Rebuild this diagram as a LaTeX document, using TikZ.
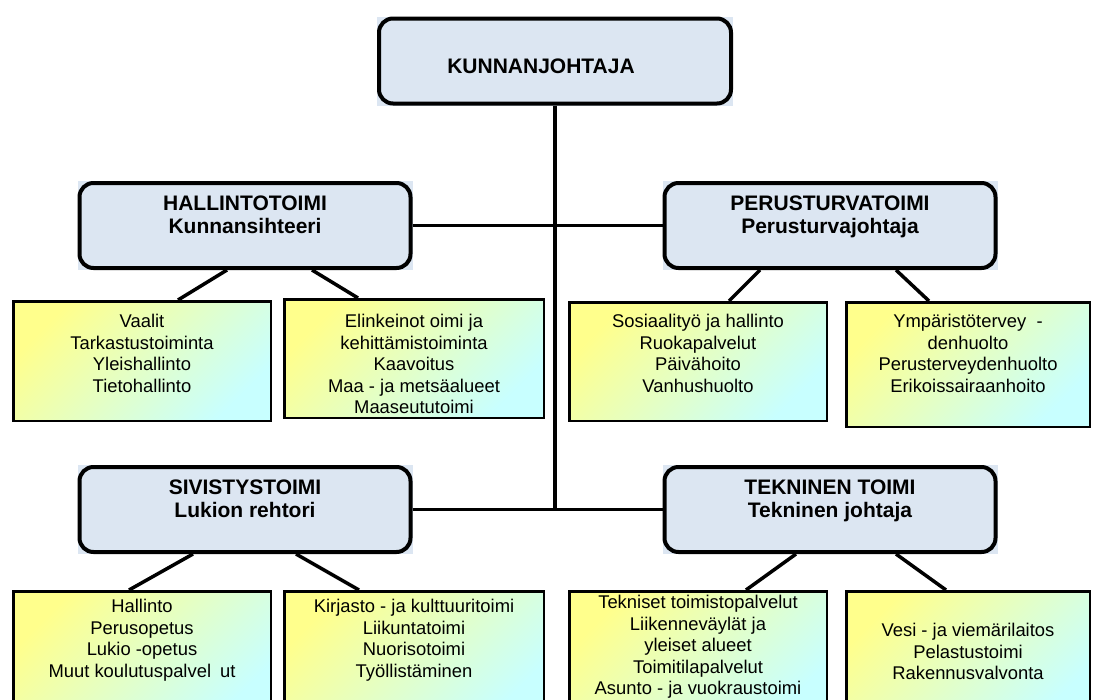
\documentclass[tikz,border=0pt]{standalone}
\usepackage{fontspec}
\setmainfont{Liberation Sans}
\usetikzlibrary{positioning,backgrounds}
\definecolor{headfill}{HTML}{DCE6F2}
\definecolor{itemtop}{HTML}{FFFF8C}
\definecolor{itembot}{HTML}{C8FFFF}

\begin{document}
\begin{tikzpicture}[x=1pt,y=-1pt,
  head/.style={draw,line width=4pt,rounded corners=14pt,align=center,
               font=\fontsize{21}{23}\selectfont\bfseries,
               minimum width=331pt,minimum height=85pt},
  item/.style={draw,line width=2.5pt,anchor=north west,
               top color=itemtop,bottom color=itembot,shading angle=45},
  itxt/.style={align=center,inner sep=0pt,font=\fontsize{18.4}{21.5}\selectfont},
  link/.style={line width=3.5pt}]
\useasboundingbox (0,0) rectangle (1095,699);
% heads
\node[head,minimum width=352pt] (kj) at (555,61) {\hspace*{-28pt}\raisebox{-5pt}[15pt][0pt]{KUNNANJOHTAJA}};
\node[head,text depth=22pt] (hal) at (245,225.5) {HALLINTOTOIMI\\Kunnansihteeri};
\node[head,text depth=22pt,right=250pt of hal] (per) {PERUSTURVATOIMI\\Perusturvajohtaja};
\node[head,text depth=22pt,below=195pt of hal] (siv) {SIVISTYSTOIMI\\Lukion rehtori};
\node[head,text depth=22pt,right=250pt of siv] (tek) {TEKNINEN TOIMI\\Tekninen johtaja};
\begin{scope}[on background layer]
\foreach \n in {kj,hal,per,siv,tek}
  \fill[headfill] (\n.south west) rectangle (\n.north east);
\end{scope}
\draw[link] (kj.south) -- (kj.south |- siv.east);
\draw[link] (hal.east) -- (per.west);
\draw[link] (siv.east) -- (tek.west);
% boxes under the heads
\node[item,minimum width=257.5pt,minimum height=119.5pt] (h1) at (12,300) {};
\node[item,minimum width=259.5pt,minimum height=118.5pt] (h2) at (283,298) {};
\node[item,minimum width=257.5pt,minimum height=118.5pt] (p1) at (568,301) {};
\node[item,minimum width=243.5pt,minimum height=124.5pt] (p2) at (845,301) {};
\node[item,minimum width=257.5pt,minimum height=130pt] (s1) at (12,590) {};
\node[item,minimum width=259.5pt,minimum height=130pt] (s2) at (283,590) {};
\node[item,minimum width=257.5pt,minimum height=130pt] (t1) at (568,590) {};
\node[item,minimum width=243.5pt,minimum height=130pt] (t2) at (845,590) {};
\node[itxt,below=14pt of h1.north] (h1t) {Vaalit\\Tarkastustoiminta\\Yleishallinto\\Tietohallinto};
\node[itxt,below=16pt of h2.north] (h2t) {Elinkeinot oimi ja\\kehittämistoiminta\\Kaavoitus\\Maa - ja metsäalueet\\Maaseututoimi};
\node[itxt,below=13pt of p1.north] (p1t) {Sosiaalityö ja hallinto\\Ruokapalvelut\\Päivähoito\\Vanhushuolto};
\node[itxt,below=13pt of p2.north] (p2t) {Ympäristötervey\ \ -\\denhuolto\\Perusterveydenhuolto\\Erikoissairaanhoito};
\node[itxt,below=9pt of s1.north] (s1t) {Hallinto\\Perusopetus\\Lukio -opetus\\Muut koulutuspalvel\hspace{9pt}ut};
\node[itxt,below=9pt of s2.north] (s2t) {Kirjasto - ja kulttuuritoimi\\Liikuntatoimi\\Nuorisotoimi\\Työllistäminen};
\node[itxt,below=5pt of t1.north] (t1t) {Tekniset toimistopalvelut\\Liikenneväylät ja\\yleiset alueet\\Toimitilapalvelut\\Asunto - ja vuokraustoimi};
\node[itxt,below=33pt of t2.north] (t2t) {Vesi - ja viemärilaitos\\Pelastustoimi\\Rakennusvalvonta};
\draw[link] ([xshift=-18pt]hal.south) -- ([xshift=36pt]h1.north);
\draw[link] ([xshift=67pt]hal.south) -- ([xshift=-56pt]h2.north);
\draw[link] ([xshift=-70pt]per.south) -- ([xshift=31pt]p1.north);
\draw[link] ([xshift=66pt]per.south) -- ([xshift=-39pt]p2.north);
\draw[link] ([xshift=-52pt]siv.south) -- ([xshift=-13pt]s1.north);
\draw[link] ([xshift=51pt]siv.south) -- ([xshift=-55pt]s2.north);
\draw[link] ([xshift=-34pt]tek.south) -- ([xshift=48pt]t1.north);
\draw[link] ([xshift=66pt]tek.south) -- ([xshift=-22pt]t2.north);
\end{tikzpicture}
\end{document}
